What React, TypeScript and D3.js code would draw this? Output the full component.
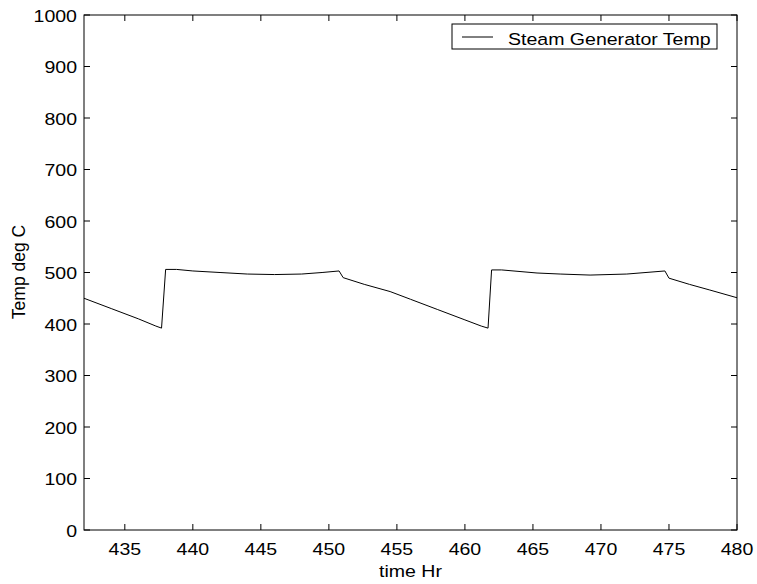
import React from "react";
import * as d3 from "d3";

const timeHr = [
  432, 434, 436, 437.28, 437.7, 438.0, 438.8, 440, 442, 444, 446, 448, 449.5, 450.75, 451.05,
  452.6, 454.5, 456, 458, 460, 461.2, 461.7, 461.96, 462.7, 465.3, 467, 469.2, 471.9, 474.7,
  475.0, 476.5, 478, 480,
];
const tempC = [
  450, 430, 410, 396, 392, 506, 506, 503, 500, 497, 496, 497, 500, 503, 490,
  477, 463, 448, 428, 408, 396, 392, 505, 505, 499, 497, 495, 497, 503,
  489, 477, 466, 451,
];
const xTicks = [435, 440, 445, 450, 455, 460, 465, 470, 475, 480];
const yTicks = [0, 100, 200, 300, 400, 500, 600, 700, 800, 900, 1000];
const seriesName = "Steam Generator Temp";

const SX = 1.15;

function HText(props: { x: number; y: number; anchor?: string; size?: number; children: React.ReactNode }) {
  return (
    <text
      transform={`translate(${props.x},${props.y}) scale(${SX},1)`}
      textAnchor={props.anchor || "start"}
      fontSize={props.size || 17}
    >
      {props.children}
    </text>
  );
}

export default function App() {
  const W = 757, H = 584;
  const L = 84, R = 737, T = 15, B = 530;
  const x = d3.scaleLinear().domain([432, 480]).range([L, R]);
  const y = d3.scaleLinear().domain([0, 1000]).range([B, T]);
  const pts = timeHr.map((t, i) => [t, tempC[i]] as [number, number]);
  const line = d3.line<[number, number]>().x(d => x(d[0])).y(d => y(d[1]));
  const font = "Liberation Sans, Arial, Helvetica, sans-serif";
  const tl = 6;
  return (
    <svg width={W} height={H} style={{ position: "absolute", left: 0, top: 0 }} fontFamily={font}>
      <rect x={0} y={0} width={W} height={H} fill="#fff" />
      <rect x={L} y={T} width={R - L} height={B - T} fill="#fff" stroke="#000" strokeWidth={1} />
      {xTicks.map(v => (
        <g key={"x" + v}>
          <line x1={x(v)} x2={x(v)} y1={B} y2={B - tl} stroke="#000" />
          <line x1={x(v)} x2={x(v)} y1={T} y2={T + tl} stroke="#000" />
          <HText x={x(v)} y={B + 25} anchor="middle">{v}</HText>
        </g>
      ))}
      {yTicks.map(v => (
        <g key={"y" + v}>
          <line x1={L} x2={L + tl} y1={y(v)} y2={y(v)} stroke="#000" />
          <line x1={R} x2={R - tl} y1={y(v)} y2={y(v)} stroke="#000" />
          <HText x={L - 7} y={y(v) + 6.5} anchor="end">{v}</HText>
        </g>
      ))}
      <path d={line(pts) || ""} fill="none" stroke="#000" strokeWidth={1} />
      <rect x={452} y={24} width={265} height={25} fill="#fff" stroke="#000" />
      <line x1={462} x2={493} y1={37} y2={37} stroke="#000" />
      <HText x={508} y={45}>{seriesName}</HText>
      <HText x={(L + R) / 2} y={577} anchor="middle">time Hr</HText>
      <text transform={`translate(25, 272) rotate(-90)`} textAnchor="middle" fontSize={17.5}>Temp deg C</text>
    </svg>
  );
}
